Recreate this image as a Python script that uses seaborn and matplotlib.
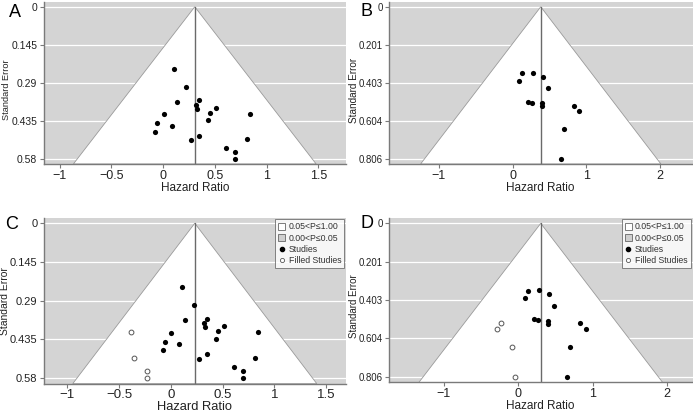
import matplotlib.lines as mlines
import matplotlib.patches as mpatches
import matplotlib.pyplot as plt
import pandas as pd
import seaborn as sns

# Panels A / C: log hazard ratio and standard error of the 20 studies
hr_ac = [0.103, 0.226, 0.135, 0.348, 0.319, 0.326, 0.516, 0.455, 0.845, 0.006,
         0.435, -0.058, 0.081, -0.074, 0.348, 0.813, 0.268, 0.610, 0.694, 0.697]
se_ac = [0.237, 0.305, 0.362, 0.357, 0.374, 0.388, 0.386, 0.404, 0.407, 0.410,
         0.432, 0.443, 0.453, 0.476, 0.491, 0.504, 0.508, 0.537, 0.555, 0.580]
# trim-and-fill imputed studies (panel C)
filled_hr_c = [-0.380, -0.357, -0.229, -0.232]
filled_se_c = [0.407, 0.505, 0.553, 0.580]

# Panels B / D: 13 studies
hr_bd = [0.130, 0.283, 0.414, 0.085, 0.482, 0.216, 0.265, 0.396, 0.405,
         0.834, 0.907, 0.695, 0.659]
se_bd = [0.353, 0.351, 0.372, 0.393, 0.432, 0.503, 0.508, 0.511, 0.527,
         0.526, 0.554, 0.649, 0.806]
filled_hr_d = [-0.227, -0.289, -0.084, -0.048]
filled_se_d = [0.525, 0.555, 0.650, 0.806]

pooled = {"A": 0.306, "B": 0.383, "C": 0.231, "D": 0.301}

yticks_ac = [0, 0.145, 0.29, 0.435, 0.58]
ylabels_ac = ["0", "0.145", "0.29", "0.435", "0.58"]
yticks_bd = [0, 0.201, 0.403, 0.604, 0.806]
ylabels_bd = ["0", "0.201", "0.403", "0.604", "0.806"]
xticks_ac = [-1, -0.5, 0, 0.5, 1, 1.5]
xlabels_ac = ["\u22121", "\u22120.5", "0", "0.5", "1", "1.5"]
xticks_bd = [-1, 0, 1, 2]
xlabels_bd = ["\u22121", "0", "1", "2"]

legend_labels = ["0.05<P\u22641.00", "0.00<P\u22640.05", "Studies", "Filled Studies"]

sns.set_theme(style="white")
plt.rcParams["font.family"] = ["Liberation Sans", "DejaVu Sans"]

GRAY_BG = "#d4d4d4"
SPINE = "#7a7a7a"
TEXT = "#222222"


def funnel(ax, hr, se, pooled_est, yticks, ylabels, xticks, xlabels,
           half_x, se_bottom, se_top, filled=None, legend=False,
           ysize=7.5, xsize=9, labsize=8.5, ylabsize=7):
    ax.set_facecolor(GRAY_BG)
    for y in yticks:
        ax.axhline(y, color="white", lw=0.9, zorder=0.5)
    # pseudo 95% confidence region
    left = pooled_est - 1.96 * se_bottom
    right = pooled_est + 1.96 * se_bottom
    ax.fill([left, pooled_est, right], [se_bottom, 0, se_bottom],
            facecolor="white", edgecolor="#9a9a9a", lw=0.6, zorder=1)
    ax.plot([pooled_est, pooled_est], [0, se_bottom], color="#6a6a6a", lw=1.0, zorder=2)

    df = pd.DataFrame({"hr": hr, "se": se})
    sns.scatterplot(data=df, x="hr", y="se", ax=ax, color="black", s=14,
                    edgecolor="black", linewidth=0, zorder=3)
    if filled is not None:
        fdf = pd.DataFrame({"hr": filled[0], "se": filled[1]})
        sns.scatterplot(data=fdf, x="hr", y="se", ax=ax, facecolor="white",
                        edgecolor="#555555", linewidth=0.7, s=12, zorder=3)

    ax.set_xlim(pooled_est - half_x, pooled_est + half_x)
    ax.set_ylim(se_bottom, se_top)
    ax.set_yticks(yticks, ylabels)
    ax.set_xticks(xticks, xlabels)
    ax.tick_params(axis="y", length=3, width=0.8, color=SPINE, labelsize=ysize,
                   labelcolor=TEXT, pad=1.5, left=True)
    ax.tick_params(axis="x", length=3, width=0.8, color=SPINE, labelsize=xsize,
                   labelcolor=TEXT, pad=1, bottom=True)
    for side in ("top", "right"):
        ax.spines[side].set_visible(False)
    for side in ("left", "bottom"):
        ax.spines[side].set_color(SPINE)
        ax.spines[side].set_linewidth(1.0)
    ax.set_xlabel("Hazard Ratio", fontsize=labsize, color=TEXT, labelpad=0)
    ax.set_ylabel("Standard Error", fontsize=ylabsize, color=TEXT)

    if legend:
        handles = [
            mpatches.Patch(facecolor="white", edgecolor="#666666", lw=0.6),
            mpatches.Patch(facecolor="#cfcfcf", edgecolor="#666666", lw=0.6),
            mlines.Line2D([], [], ls="", marker="o", ms=3, color="black"),
            mlines.Line2D([], [], ls="", marker="o", ms=3, mfc="white",
                          mec="#555555", mew=0.6),
        ]
        leg = ax.legend(handles, legend_labels, loc="upper right", fontsize=6.3,
                        frameon=True, fancybox=False, handlelength=0.8,
                        handleheight=0.8, handletextpad=0.4, labelspacing=0.25,
                        borderpad=0.35, borderaxespad=0.2, labelcolor="#333333")
        leg.get_frame().set_edgecolor("#666666")
        leg.get_frame().set_linewidth(0.7)
        leg.set_zorder(5)
    return ax


fig = plt.figure(figsize=(6.93, 4.13), dpi=100)
ax_a = fig.add_axes([0.0628, 0.603, 0.4365, 0.392])
ax_b = fig.add_axes([0.5613, 0.603, 0.4380, 0.392])
ax_c = fig.add_axes([0.0628, 0.071, 0.4365, 0.402])
ax_d = fig.add_axes([0.5613, 0.074, 0.4380, 0.399])

funnel(ax_a, hr_ac, se_ac, pooled["A"], yticks_ac, ylabels_ac, xticks_ac,
       xlabels_ac, 1.463, 0.599, -0.018, ysize=7.5, labsize=8.5, ylabsize=6.6)
funnel(ax_b, hr_bd, se_bd, pooled["B"], yticks_bd, ylabels_bd, xticks_bd,
       xlabels_bd, 2.06, 0.832, -0.025, ysize=6.9, labsize=8.5, ylabsize=7.2)
funnel(ax_c, hr_ac, se_ac, pooled["C"], yticks_ac, ylabels_ac, xticks_ac,
       xlabels_ac, 1.46, 0.601, -0.021, filled=(filled_hr_c, filled_se_c),
       legend=True, ysize=8, xsize=9.5, labsize=9.3, ylabsize=7.5)
funnel(ax_d, hr_bd, se_bd, pooled["D"], yticks_bd, ylabels_bd, xticks_bd,
       xlabels_bd, 2.04, 0.836, -0.03, filled=(filled_hr_d, filled_se_d),
       legend=True, ysize=6.9, labsize=8.5, ylabsize=7)

ax_a.yaxis.set_label_coords(-0.108, 0.46)
ax_b.yaxis.set_label_coords(-0.098, 0.455)
ax_c.yaxis.set_label_coords(-0.11, 0.5)
ax_d.yaxis.set_label_coords(-0.098, 0.465)

for letter, (px, py) in {"A": (15, 12.5), "B": (367, 11), "C": (12, 224.5),
                         "D": (367, 224)}.items():
    fig.text(px / 693, 1 - py / 413, letter, fontsize=13, color="black",
             ha="center", va="center")

fig.savefig("out.png", dpi=100)
